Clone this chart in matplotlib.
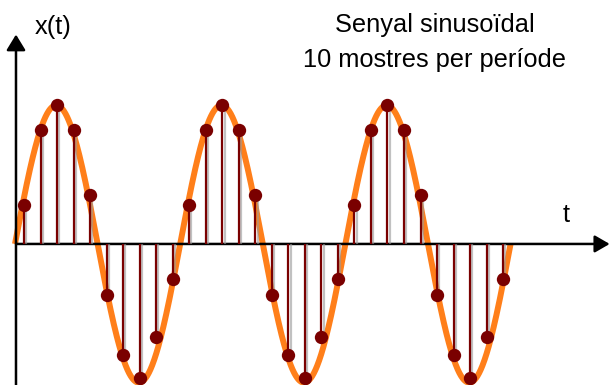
import numpy as np
import matplotlib
matplotlib.use("Agg")
import matplotlib.pyplot as plt
import matplotlib.patheffects as pe
from matplotlib.patches import FancyArrowPatch

# ---- data ----
samples_per_period = 10
n_periods = 3
sample_index = np.arange(samples_per_period * n_periods)
sample_offset = 0.55  # sampling phase offset (in sample units)
sample_values = [0.28, 0.82, 1.00, 0.82, 0.35, -0.37, -0.80, -0.97, -0.67, -0.25,
                 0.28, 0.82, 1.00, 0.82, 0.35, -0.37, -0.80, -0.97, -0.67, -0.25,
                 0.28, 0.82, 1.00, 0.82, 0.35, -0.37, -0.80, -0.97, -0.67, -0.25]
title_lines = ["Senyal sinusoïdal", "10 mostres per període"]
y_label = "x(t)"
x_label = "t"

# ---- style ----
ORANGE = "#ff7f1a"
DARKRED = "#7a0000"
FONT = "Liberation Sans"

fig = plt.figure(figsize=(6.11, 3.85), dpi=100)
ax = fig.add_axes([0, 0, 1, 1])
ax.set_axis_off()
ax.set_xlim(-0.908, 36.08)
ax.set_ylim(-1.017, 1.759)

t_samples = sample_index + sample_offset

# continuous sinusoid
t_curve = np.linspace(0, samples_per_period * n_periods, 1200)
ax.plot(t_curve, np.sin(2 * np.pi * t_curve / samples_per_period),
        color=ORANGE, lw=4.3, solid_capstyle="butt", zorder=2)

# axes arrows
y_axis_t = 0.06
ax.add_patch(FancyArrowPatch((y_axis_t, -1.02), (y_axis_t, 1.51),
                             arrowstyle="-|>,head_length=9.5,head_width=5.8",
                             mutation_scale=1, shrinkA=0, shrinkB=0,
                             color="black", lw=1.8, zorder=3))
ax.add_patch(FancyArrowPatch((y_axis_t, 0), (36.0, 0),
                             arrowstyle="-|>,head_length=9.0,head_width=5.2",
                             mutation_scale=1, shrinkA=0, shrinkB=0,
                             color="black", lw=1.8, zorder=3))

# stems with light shadow
ax.vlines(t_samples, 0, sample_values, colors=DARKRED, lw=1.6, zorder=4,
          path_effects=[pe.SimpleLineShadow(offset=(1.6, 0), shadow_color="#999999", alpha=0.6),
                        pe.Normal()])
ax.plot(t_samples, sample_values, "o", color=DARKRED, ms=9.6, mec="none", zorder=5)

# texts
ax.text(1.21, 1.515, y_label, fontsize=18.3, family=FONT, ha="left", va="baseline")
ax.text(25.42, 1.529, title_lines[0], fontsize=18.3, family=FONT, ha="center", va="baseline")
ax.text(25.42, 1.277, title_lines[1], fontsize=18.3, family=FONT, ha="center", va="baseline")
ax.text(33.35, 0.155, x_label, fontsize=18.3, family=FONT, ha="center", va="baseline")

fig.savefig("out.png", dpi=100)
